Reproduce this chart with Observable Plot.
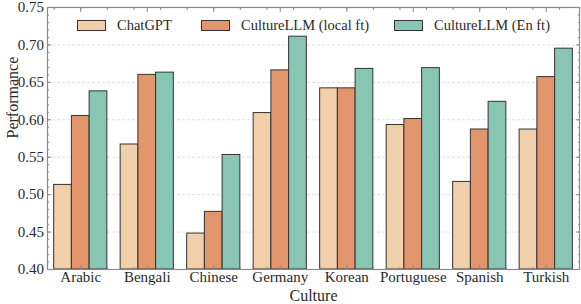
<!DOCTYPE html>
<html>
<head>
<meta charset="utf-8">
<script src="https://cdn.jsdelivr.net/npm/d3@7"></script>
<script src="https://cdn.jsdelivr.net/npm/@observablehq/plot@0.6"></script>
<style>
  body { margin: 0; background: #fff; }
  #wrap { position: relative; width: 581px; height: 304px; font-family: "Times New Roman", Times, "Liberation Serif", "DejaVu Serif", "Noto Serif", serif; }
  #wrap svg, #wrap svg text { font-family: "Times New Roman", Times, "Liberation Serif", "DejaVu Serif", "Noto Serif", serif !important; }
  .lg { position: absolute; top: 17px; font-size: 14.5px; color: #2a2a2a; display: flex; align-items: center; white-space: nowrap; }
  .sw { width: 27px; height: 9px; border: 1px solid #333; margin-right: 11px; }
</style>
</head>
<body>
<div id="wrap"></div>
<script>
const cultures = ["Arabic", "Bengali", "Chinese", "Germany", "Korean", "Portuguese", "Spanish", "Turkish"];
const series = ["ChatGPT", "CultureLLM (local ft)", "CultureLLM (En ft)"];
const chatgpt = [0.513, 0.567, 0.448, 0.609, 0.642, 0.593, 0.517, 0.587];
const localFt = [0.605, 0.660, 0.477, 0.666, 0.642, 0.601, 0.587, 0.657];
const enFt    = [0.638, 0.663, 0.553, 0.711, 0.668, 0.669, 0.624, 0.695];
const colors = ["#F0CFAA", "#E3966B", "#88C5B2"];
const yTicks = [0.40, 0.45, 0.50, 0.55, 0.60, 0.65, 0.70, 0.75];
const yMinorTicks = d3.range(40, 76).map(d => d / 100);
const xTicks = d3.range(cultures.length);
const xMinorTicks = d3.range(-1, 19).map(d => d * 0.4);

// grouped bars: each group spans 0.8 of a unit step around its culture index
const groupWidth = 0.8;
const barWidth = groupWidth / series.length;
const valuesBySeries = [chatgpt, localFt, enFt];
const data = [];
cultures.forEach((c, i) => series.forEach((s, j) => data.push({
  culture: c, series: s, value: valuesBySeries[j][i],
  x1: i - groupWidth / 2 + j * barWidth,
  x2: i - groupWidth / 2 + (j + 1) * barWidth
})));

const gray = "#8a8a8a";
const chart = Plot.plot({
  width: 581,
  height: 304,
  marginLeft: 47,
  marginRight: 2,
  marginTop: 7,
  marginBottom: 35,
  style: {fontSize: "15px", color: "#2a2a2a", background: "#fff"},
  x: {domain: [-0.5, cultures.length - 0.5], label: null},
  y: {domain: [0.40, 0.75], label: null},
  color: {domain: series, range: colors},
  marks: [
    Plot.gridY(yTicks, {stroke: "#d8d8d8", strokeOpacity: 1, strokeDasharray: "3,2", strokeWidth: 0.8}),
    Plot.rectY(data, {x1: "x1", x2: "x2", y1: 0.40, y2: "value", fill: "series", stroke: "#333", strokeWidth: 1, inset: 0}),
    Plot.axisY(yTicks, {anchor: "left", tickSize: -4, tickPadding: 7.5, stroke: gray, tickFormat: d3.format(".2f"), fontSize: 15, label: null}),
    Plot.axisY(yMinorTicks, {anchor: "left", tickSize: -2, stroke: gray, text: null, label: null}),
    Plot.axisY(yTicks, {anchor: "right", tickSize: -4, stroke: gray, text: null, label: null}),
    Plot.axisY(yMinorTicks, {anchor: "right", tickSize: -2, stroke: gray, text: null, label: null}),
    Plot.axisX(xTicks, {anchor: "bottom", tickSize: -4, tickPadding: 6, stroke: gray, tickFormat: i => cultures[i], fontSize: 15, label: null}),
    Plot.axisX(xMinorTicks, {anchor: "bottom", tickSize: -2, stroke: gray, text: null, label: null}),
    Plot.axisX(xTicks, {anchor: "top", tickSize: -4, stroke: gray, text: null, label: null}),
    Plot.axisX(xMinorTicks, {anchor: "top", tickSize: -2, stroke: gray, text: null, label: null}),
    Plot.frame({stroke: gray, strokeWidth: 1.2}),
    Plot.text(["Performance"], {frameAnchor: "left", dx: -35, rotate: -90, fontSize: 16}),
    Plot.text(["Culture"], {frameAnchor: "bottom", dy: 26, lineAnchor: "middle", fontSize: 16})
  ]
});
const wrap = document.getElementById("wrap");
wrap.appendChild(chart);

const legendX = [77, 201, 394];
series.forEach((s, i) => {
  const d = document.createElement("div");
  d.className = "lg";
  d.style.left = legendX[i] + "px";
  d.innerHTML = `<div class="sw" style="background:${colors[i]}"></div><span>${s}</span>`;
  wrap.appendChild(d);
});
</script>
</body>
</html>
